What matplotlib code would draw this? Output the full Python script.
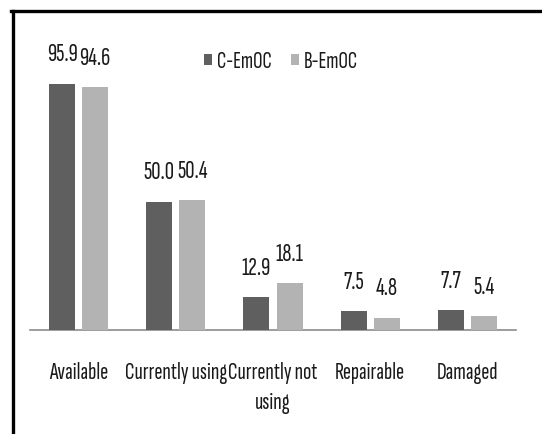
import matplotlib
matplotlib.use("Agg")
import matplotlib.pyplot as plt
import numpy as np
from matplotlib.lines import Line2D
from matplotlib.patches import Patch

plt.rcParams["font.family"] = ["Sofia Sans Extra Condensed", "Carlito", "DejaVu Sans"]

categories = ["Available", "Currently using", "Currently not\nusing", "Repairable", "Damaged"]
series_names = ["C-EmOC", "B-EmOC"]
c_emoc = [95.9, 50.0, 12.9, 7.5, 7.7]
b_emoc = [94.6, 50.4, 18.1, 4.8, 5.4]

DARK = "#5f5f5f"
LIGHT = "#b3b3b3"
INK = "#1a1a1a"

W, H = 542, 434
fig = plt.figure(figsize=(W / 100, H / 100), dpi=100)
fig.patch.set_facecolor("white")

ax = fig.add_axes([30 / W, 104 / H, 486 / W, 257 / H])
ax.set_facecolor("none")

x = np.arange(len(categories))
bw = 0.267
off = 0.17
bars_c = ax.bar(x - off, c_emoc, bw, color=DARK, zorder=3)
bars_b = ax.bar(x + off, b_emoc, bw, color=LIGHT, zorder=3)

for bars, vals in ((bars_c, c_emoc), (bars_b, b_emoc)):
    for b, v in zip(bars, vals):
        ax.annotate(f"{v:.1f}", (b.get_x() + b.get_width() / 2, v),
                    xytext=(0, 16), textcoords="offset points",
                    ha="center", va="baseline", fontsize=18.5, color=INK,
                    annotation_clip=False)

ax.set_xlim(-0.5, len(categories) - 0.5)
ax.set_ylim(0, 100)
ax.set_yticks([])
ax.set_xticks(x)
ax.set_xticklabels(categories, fontsize=17.5, color=INK, linespacing=1.5)
ax.tick_params(axis="x", length=0, pad=23)
for s in ("top", "right", "left"):
    ax.spines[s].set_visible(False)
ax.spines["bottom"].set_color("#8c8c8c")
ax.spines["bottom"].set_linewidth(1.2)

handles = [Patch(facecolor=DARK, edgecolor="none"),
           Patch(facecolor=LIGHT, edgecolor="none")]
fig.legend(handles, series_names, loc="center", bbox_to_anchor=(281 / W, 1 - 62 / H),
           ncol=2, frameon=False, fontsize=17, handlelength=0.35, handleheight=0.35,
           handletextpad=0.2, columnspacing=0.8, labelcolor=INK)

# frame lines along the top and left edges
fig.add_artist(Line2D([11 / W, 1.0], [1 - 11 / H, 1 - 11 / H], color="black", lw=2.4,
                      transform=fig.transFigure))
fig.add_artist(Line2D([12.5 / W, 12.5 / W], [0, 1 - 11 / H], color="black", lw=2.4,
                      transform=fig.transFigure))

fig.savefig("out.png", dpi=100, facecolor="white")
